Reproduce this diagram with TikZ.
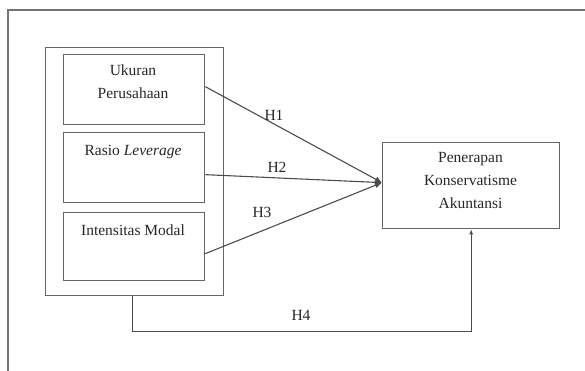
\documentclass[tikz,border=0pt]{standalone}
\usepackage{fontspec}
\setmainfont{Liberation Serif}
\usetikzlibrary{arrows.meta}
\begin{document}
\begin{tikzpicture}[x=1pt,y=-1pt,
  boxline/.style={draw=black!60, line width=1.3pt},
  varbox/.style={boxline, minimum width=141pt, anchor=north west, inner sep=0pt},
  lbl/.style={font=\fontsize{15.5}{23}\selectfont, text=black!85, align=center, inner sep=0pt},
  conn/.style={draw=black!70, line width=1.1pt, -{Latex[length=7pt,width=6pt]}},
  conn4/.style={draw=black!70, line width=1.1pt, -{Latex[length=5pt,width=4pt]}}]
\useasboundingbox (0,0) rectangle (585,371);
% outer frame
\draw[draw=black!55, line width=1.2pt] (590,10) -- (8,10) -- (8,376);
% group box
\node[boxline, minimum width=178pt, minimum height=248pt, anchor=north west, inner sep=0pt] (group) at (45,47) {};
\node[varbox, minimum height=70pt] (b1) at (63,54) {};
\node[varbox, minimum height=70pt] (b2) at (63,132) {};
\node[varbox, minimum height=68pt] (b3) at (63,212) {};
\node[lbl] (t1) at (133,82) {Ukuran\\Perusahaan};
\node[lbl] (t2) at (133,152) {Rasio \textit{Leverage}};
\node[lbl] (t3) at (133,230) {Intensitas Modal};
% dependent
\node[boxline, minimum width=177pt, minimum height=86pt, anchor=north west, inner sep=0pt] (dep) at (382,142) {};
\node[lbl] (td) at (470.5,181) {Penerapan\\Konservatisme\\Akuntansi};
% connectors
\coordinate (tip) at ([yshift=3pt]dep.west);
\draw[conn] ([yshift=3pt]b1.east) -- (tip);
\draw[conn] ([yshift=-7pt]b2.east) -- (tip);
\draw[conn] ([yshift=-7pt]b3.east) -- (tip);
\draw[conn4] ([xshift=-2pt]group.south) -- ++(0,35) -| (dep.south);
% labels
\node[lbl] (h1) at (274,115) {H1};
\node[lbl] (h2) at (277,167) {H2};
\node[lbl] (h3) at (262,212) {H3};
\node[lbl] (h4) at (301,315) {H4};
\end{tikzpicture}
\end{document}
